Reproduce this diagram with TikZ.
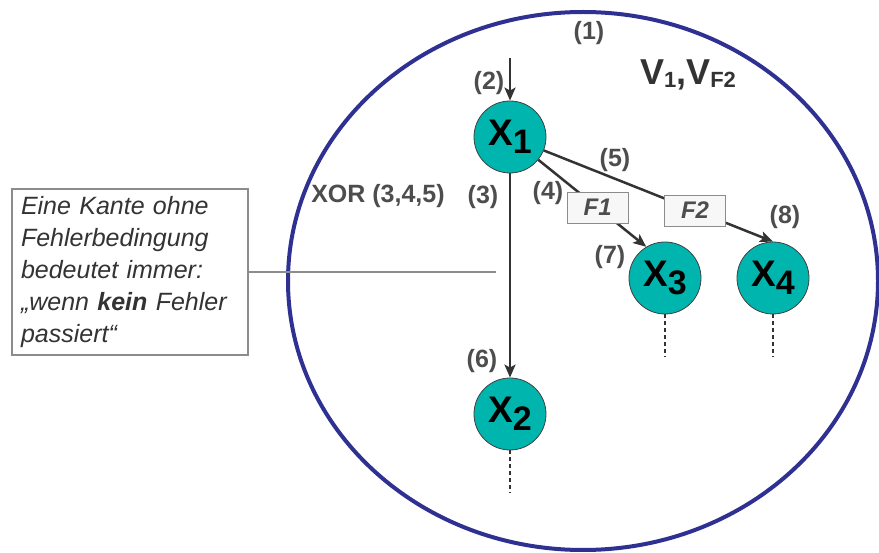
\documentclass[tikz,border=0pt]{standalone}
\usepackage{fontspec}
\setmainfont{Liberation Sans}
\usetikzlibrary{arrows.meta, positioning}

\definecolor{rahmenblau}{RGB}{46,49,146}
\definecolor{knotengruen}{RGB}{0,181,173}
\definecolor{textgrau}{RGB}{77,77,77}

\newcommand{\xknoten}[1]{X\raisebox{-8pt}{\fontsize{34}{34}\selectfont #1}}
\newcommand{\vsub}[1]{\raisebox{-3pt}{\fontsize{22}{22}\selectfont #1}}

\begin{document}
\begin{tikzpicture}[
  x=1pt, y=-1pt,
  knoten/.style={
    circle,
    draw=black!75,
    line width=0.8pt,
    fill=knotengruen,
    minimum size=72pt,
    inner sep=0pt,
    font=\fontsize{37}{37}\selectfont\bfseries
  },
  marke/.style={
    font=\fontsize{25}{25}\selectfont\bfseries,
    text=textgrau,
    inner sep=0pt
  },
  bedingung/.style={
    draw=black!45,
    fill=black!3,
    line width=0.9pt,
    minimum width=61pt,
    minimum height=31pt,
    inner sep=0pt,
    font=\fontsize{24}{24}\selectfont\bfseries\itshape,
    text=textgrau
  },
  pfeil/.style={
    -{Stealth[length=13pt, width=11pt, inset=3pt]},
    line width=2.5pt,
    draw=black!80
  },
  stummel/.style={
    dash pattern=on 4pt off 3pt,
    line width=2.5pt,
    draw=black!80
  },
  notiz/.style={
    draw=black!45,
    line width=1.2pt,
    fill=white,
    align=left,
    minimum width=236pt,
    minimum height=166pt,
    text width=218pt,
    inner xsep=9pt,
    font=\fontsize{25}{32}\selectfont\itshape,
    text=black!80
  },
  huelle/.style={
    draw=rahmenblau,
    line width=4pt
  }
]
  \useasboundingbox (0,0) rectangle (879,553);
  \clip (0,0) rectangle (879,553);

  % Fehlerbereich
  \draw[huelle] (583,281) ellipse [x radius=295, y radius=269];

  \node[knoten] (X1) at (510,137) {\xknoten{1}};
  \node[knoten] (X2) at (510,414) {\xknoten{2}};
  \node[knoten] (X3) at (665,278) {\xknoten{3}};
  \node[knoten] (X4) at (773,278) {\xknoten{4}};

  \coordinate (ein) at (510,58);
  \draw[pfeil] (ein) -- (X1);
  \draw[pfeil] (X1) -- (X2);
  \draw[pfeil] (X1) -- node[bedingung, pos=0.55] (F1) {F1} (X3.121);
  \draw[pfeil] (X1) -- node[bedingung, pos=0.66] (F2) {F2} (X4.north);

  \foreach \n in {X2, X3, X4} {
    \draw[stummel] (\n.south) -- ([yshift=-43pt]\n.south);
  }

  % Marken
  \node[marke] (m1) at (589,33) {(1)};
  \node[marke] (m2) at (489,83) {(2)};
  \node[marke] (m3) at (483,197) {(3)};
  \node[marke] (m4) at (548,193) {(4)};
  \node[marke] (m5) at (615,160) {(5)};
  \node[marke] (m6) at (482,361) {(6)};
  \node[marke] (m7) at (610,257) {(7)};
  \node[marke] (m8) at (785,217) {(8)};
  \node[marke] (xor) at (378,196) {XOR (3,4,5)};
  \node[marke, text=black!80, font=\fontsize{36}{36}\selectfont\bfseries] (vf) at (688,75)
    {V\vsub{1},V\vsub{F2}};

  % Anmerkung
  \node[notiz] (notiz) at (130,272)
    {Eine Kante ohne\\Fehlerbedingung\\bedeutet immer:\\„wenn \textbf{kein} Fehler\\passiert“};
  \coordinate (notiz-ende) at (496,272);
  \draw[black!45, line width=1.4pt] (notiz.east) -- (notiz-ende);
\end{tikzpicture}
\end{document}
